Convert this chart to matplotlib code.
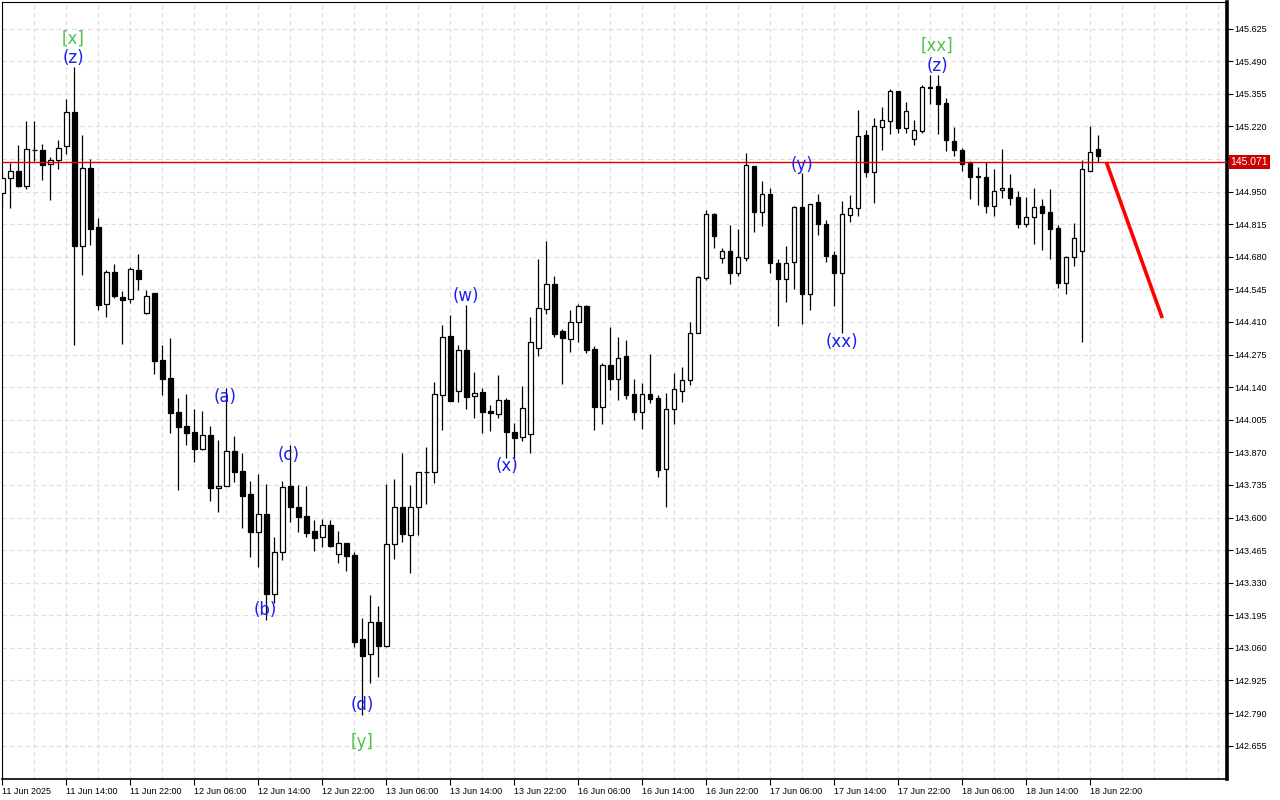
import matplotlib
matplotlib.use("Agg")  # headless
import matplotlib.pyplot as plt
import matplotlib.transforms as mtransforms

# H1 candles, 11 Jun 06:00 .. 18 Jun 23:00
opens = [144.944, 145.006, 145.035, 144.973, 145.120, 145.122, 145.064, 145.080, 145.138, 145.279,
         144.724, 145.047, 144.803, 144.484, 144.617, 144.513, 144.505, 144.625, 144.447, 144.530,
         144.252, 144.178, 144.037, 143.979, 143.954, 143.884, 143.942, 143.722, 143.730, 143.875,
         143.793, 143.697, 143.540, 143.614, 143.283, 143.457, 143.730, 143.643, 143.606, 143.544,
         143.519, 143.569, 143.449, 143.494, 143.445, 143.097, 143.035, 143.167, 143.068, 143.490,
         143.643, 143.528, 143.643, 143.788, 143.788, 144.107, 144.352, 144.124, 144.294, 144.103,
         144.120, 144.041, 144.029, 144.087, 143.954, 143.933, 143.946, 144.302, 144.463, 144.567,
         144.372, 144.339, 144.410, 144.476, 144.298, 144.058, 144.231, 144.174, 144.269, 144.111,
         144.037, 144.111, 144.095, 143.801, 144.049, 144.124, 144.169, 144.364, 144.592, 144.857,
         144.675, 144.704, 144.612, 144.675, 145.056, 144.865, 144.940, 144.654, 144.588, 144.658,
         144.886, 144.526, 144.907, 144.815, 144.687, 144.612, 144.853, 144.882, 145.184, 145.031,
         145.217, 145.242, 145.366, 145.213, 145.167, 145.200, 145.381, 145.387, 145.316, 145.159,
         145.122, 145.068, 145.014, 145.010, 144.890, 144.956, 144.964, 144.927, 144.815, 144.844,
         144.890, 144.865, 144.799, 144.571, 144.679, 144.704, 145.035, 145.126]
highs = [145.031, 145.068, 145.143, 145.242, 145.242, 145.147, 145.093, 145.163, 145.333, 145.466,
         145.184, 145.085, 144.840, 144.625, 144.650, 144.538, 144.637, 144.691, 144.542, 144.530,
         144.314, 144.343, 144.095, 144.111, 144.049, 144.041, 143.979, 143.921, 144.136, 143.937,
         143.867, 143.751, 143.780, 143.739, 143.519, 143.751, 143.900, 143.735, 143.730, 143.590,
         143.594, 143.590, 143.544, 143.494, 143.457, 143.184, 143.279, 143.233, 143.739, 143.759,
         143.867, 143.735, 143.788, 143.892, 144.161, 144.397, 144.439, 144.314, 144.480, 144.203,
         144.136, 144.066, 144.190, 144.095, 143.991, 144.145, 144.430, 144.670, 144.745, 144.600,
         144.381, 144.459, 144.484, 144.480, 144.310, 144.240, 144.389, 144.347, 144.335, 144.174,
         144.157, 144.277, 144.107, 144.116, 144.198, 144.223, 144.410, 144.600, 144.873, 144.861,
         144.716, 144.811, 144.795, 145.109, 145.056, 144.993, 144.964, 144.670, 144.724, 144.890,
         145.027, 144.898, 144.940, 144.832, 144.704, 144.911, 144.935, 145.287, 145.205, 145.254,
         145.300, 145.374, 145.366, 145.321, 145.246, 145.391, 145.432, 145.432, 145.337, 145.217,
         145.130, 145.076, 145.051, 145.072, 145.043, 145.126, 145.022, 144.952, 144.927, 144.964,
         144.919, 144.960, 144.811, 144.683, 144.820, 145.080, 145.221, 145.184]
lows = [144.886, 144.882, 144.969, 144.960, 145.076, 144.998, 144.915, 145.043, 145.105, 144.314,
        144.604, 144.728, 144.459, 144.430, 144.509, 144.318, 144.488, 144.542, 144.443, 144.194,
        144.107, 143.950, 143.714, 143.900, 143.830, 143.880, 143.668, 143.623, 143.730, 143.747,
        143.556, 143.436, 143.395, 143.176, 143.246, 143.424, 143.581, 143.540, 143.519, 143.461,
        143.478, 143.478, 143.412, 143.378, 143.064, 142.782, 142.915, 142.939, 143.064, 143.428,
        143.499, 143.370, 143.528, 143.656, 143.743, 143.962, 144.082, 144.078, 144.049, 144.012,
        143.950, 143.958, 144.012, 143.846, 143.846, 143.917, 143.867, 144.269, 144.443, 144.347,
        144.153, 144.285, 144.327, 144.281, 143.962, 143.987, 144.128, 144.087, 144.091, 144.004,
        143.966, 144.074, 143.768, 143.643, 143.987, 144.078, 144.149, 144.364, 144.583, 144.716,
        144.654, 144.567, 144.600, 144.662, 144.782, 144.807, 144.612, 144.393, 144.492, 144.546,
        144.401, 144.459, 144.770, 144.658, 144.476, 144.364, 144.824, 144.849, 145.010, 144.902,
        145.122, 145.188, 145.192, 145.192, 145.143, 145.192, 145.312, 145.188, 145.118, 145.097,
        145.035, 144.919, 144.894, 144.861, 144.849, 144.923, 144.894, 144.799, 144.803, 144.733,
        144.708, 144.670, 144.550, 144.526, 144.641, 144.327, 145.035, 145.072]
closes = [145.006, 145.035, 144.973, 145.126, 145.122, 145.060, 145.080, 145.130, 145.279, 144.724,
          145.047, 144.795, 144.480, 144.617, 144.517, 144.501, 144.629, 144.588, 144.517, 144.248,
          144.174, 144.033, 143.975, 143.950, 143.884, 143.942, 143.722, 143.730, 143.875, 143.788,
          143.689, 143.540, 143.614, 143.283, 143.457, 143.726, 143.643, 143.602, 143.536, 143.515,
          143.569, 143.482, 143.494, 143.441, 143.084, 143.026, 143.167, 143.068, 143.490, 143.643,
          143.532, 143.643, 143.788, 143.790, 144.111, 144.347, 144.082, 144.294, 144.099, 144.116,
          144.037, 144.033, 144.087, 143.954, 143.929, 144.053, 144.327, 144.468, 144.567, 144.360,
          144.343, 144.410, 144.476, 144.294, 144.058, 144.231, 144.174, 144.260, 144.107, 144.037,
          144.111, 144.091, 143.797, 144.049, 144.132, 144.169, 144.364, 144.596, 144.857, 144.766,
          144.704, 144.612, 144.679, 145.060, 144.865, 144.940, 144.654, 144.588, 144.654, 144.886,
          144.526, 144.898, 144.815, 144.683, 144.612, 144.857, 144.882, 145.180, 145.031, 145.221,
          145.246, 145.366, 145.213, 145.283, 145.205, 145.383, 145.377, 145.312, 145.163, 145.122,
          145.064, 145.010, 145.010, 144.890, 144.952, 144.964, 144.923, 144.815, 144.844, 144.886,
          144.861, 144.795, 144.571, 144.679, 144.757, 145.043, 145.114, 145.097]

time_labels = ["11 Jun 2025", "11 Jun 14:00", "11 Jun 22:00", "12 Jun 06:00", "12 Jun 14:00",
               "12 Jun 22:00", "13 Jun 06:00", "13 Jun 14:00", "13 Jun 22:00", "16 Jun 06:00",
               "16 Jun 14:00", "16 Jun 22:00", "17 Jun 06:00", "17 Jun 14:00", "17 Jun 22:00",
               "18 Jun 06:00", "18 Jun 14:00", "18 Jun 22:00"]
price_ticks = [142.655, 142.790, 142.925, 143.060, 143.195, 143.330, 143.465, 143.600, 143.735,
               143.870, 144.005, 144.140, 144.275, 144.410, 144.545, 144.680, 144.815, 144.950,
               145.085, 145.220, 145.355, 145.490, 145.625]
current_price = 145.071

# wave markup: text, bar index, price
blue_labels = ["(z)", "(a)", "(b)", "(c)", "(d)", "(w)", "(x)", "(y)", "(xx)", "(z)"]
blue_x = [8.84, 27.84, 32.84, 35.84, 44.96, 57.96, 63.09, 99.96, 104.96, 116.84]
blue_y = [145.503, 144.099, 143.217, 143.859, 142.824, 144.517, 143.813, 145.060, 144.327, 145.470]
green_labels = ["[x]", "[y]", "[xx]"]
green_x = [8.84, 44.96, 116.84]
green_y = [145.582, 142.670, 145.553]

# forecast arrow
forecast_x = [138, 145]
forecast_y = [145.072, 144.426]

fig = plt.figure(figsize=(12.8, 8), dpi=100)
ax = fig.add_axes([2 / 1280, 21 / 800, 1225 / 1280, 777 / 800])

n = len(opens)
xs = list(range(n))
ax.vlines(xs, lows, highs, color="black", lw=0.9, zorder=3)
bottoms = [min(o, c) for o, c in zip(opens, closes)]
heights = [max(abs(c - o), 0.0015) for o, c in zip(opens, closes)]
faces = ["white" if c >= o else "black" for o, c in zip(opens, closes)]
ax.bar(xs, heights, bottom=bottoms, width=0.55, color=faces, edgecolor="black", linewidth=0.9, zorder=4)

ax.axhline(current_price, color="#e00000", lw=1, zorder=5)
ax.plot(forecast_x, forecast_y, color="#ff0000", lw=2.6, solid_capstyle="butt", zorder=6)

for s, x, y in zip(blue_labels, blue_x, blue_y):
    ax.text(x, y, s, color="#1c1cf5", fontsize=12, ha="center", va="center", zorder=7)
for s, x, y in zip(green_labels, green_x, green_y):
    ax.text(x, y, s, color="#4cc24c", fontsize=12, ha="center", va="center", zorder=7)

ax.set_xlim(-0.04, 153.09)
ax.set_ylim(142.517, 145.735)

# x axis
ax.set_xticks(range(0, 8 * len(time_labels), 8))
ax.set_xticklabels(time_labels, fontsize=6.5, family="Liberation Sans", ha="left")
ax.set_xticks(range(0, 154, 4), minor=True)
ax.tick_params(axis="x", which="major", length=4, width=0.8, pad=1.5)
ax.tick_params(axis="x", which="minor", length=0)

# y axis on the right; the tick under the price tag is hidden by it in the original
ax.yaxis.tick_right()
ax.set_yticks(price_ticks)
ax.set_yticklabels(["" if abs(p - current_price) < 0.03 else f"{p:.3f}" for p in price_ticks],
                   fontsize=6.5, family="Liberation Sans")
ax.tick_params(axis="y", length=4, width=0.8, pad=1.5)

ax.grid(True, axis="x", which="both", color="#dddddd", ls=(0, (4, 3)), lw=0.8)
ax.grid(True, axis="y", which="major", color="#dddddd", ls=(0, (4, 3)), lw=0.8)
ax.set_axisbelow(True)

for side, w in (("left", 0.8), ("top", 0.8), ("bottom", 1.2), ("right", 2.6)):
    ax.spines[side].set_linewidth(w)
    ax.spines[side].set_color("black")

# current price tag
trans = mtransforms.blended_transform_factory(ax.transAxes, ax.transData)
ax.text(1.003, current_price, f"{current_price:.3f}", transform=trans, color="white",
        fontsize=7.5, family="Liberation Sans", ha="left", va="center", clip_on=False, zorder=10,
        bbox=dict(boxstyle="square,pad=0.2", fc="#cc0000", ec="none"))

fig.savefig("out.png", dpi=100)
plt.close(fig)
